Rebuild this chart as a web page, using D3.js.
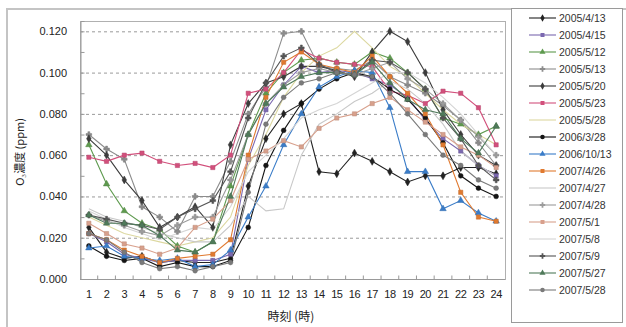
<!DOCTYPE html>
<html>
<head>
<meta charset="utf-8">
<script src="https://cdn.jsdelivr.net/npm/d3@7"></script>
<style>
  body { margin: 0; background: #fff; }
  svg { display: block; font-family: "Liberation Sans", Arial, sans-serif; }
</style>
</head>
<body>
<div id="chart"></div>
<script>
var hours = [1,2,3,4,5,6,7,8,9,10,11,12,13,14,15,16,17,18,19,20,21,22,23,24];
var yTicks = [0, 0.02, 0.04, 0.06, 0.08, 0.10, 0.12];
var dates = ["2005/4/13","2005/4/15","2005/5/12","2005/5/13","2005/5/20","2005/5/23","2005/5/28",
             "2006/3/28","2006/10/13","2007/4/26","2007/4/27","2007/4/28","2007/5/1","2007/5/8",
             "2007/5/9","2007/5/27","2007/5/28"];

// O3 concentration (ppm) by hour, one array per day
var d20050413 = [0.025,0.013,0.010,0.011,0.008,0.009,0.008,0.008,0.010,0.045,0.068,0.080,0.085,0.052,0.051,0.061,0.057,0.052,0.047,0.050,0.050,0.054,0.054,0.051];
var d20050415 = [0.022,0.018,0.012,0.010,0.008,0.009,0.009,0.009,0.012,0.058,0.082,0.094,0.103,0.100,0.101,0.100,0.097,0.094,0.088,0.077,0.068,0.062,0.055,0.050];
var d20050512 = [0.065,0.046,0.033,0.027,0.024,0.016,0.013,0.018,0.045,0.070,0.090,0.100,0.106,0.107,0.105,0.104,0.110,0.107,0.100,0.092,0.078,0.075,0.070,0.074];
var d20050513 = [0.070,0.063,0.058,0.035,0.030,0.023,0.040,0.040,0.057,0.080,0.093,0.119,0.120,0.103,0.102,0.101,0.106,0.098,0.094,0.090,0.084,0.077,0.066,0.055];
var d20050520 = [0.068,0.060,0.048,0.038,0.025,0.030,0.035,0.025,0.065,0.085,0.095,0.098,0.103,0.103,0.101,0.098,0.110,0.120,0.115,0.100,0.082,0.070,0.060,0.055];
var d20050523 = [0.059,0.057,0.060,0.061,0.057,0.055,0.056,0.054,0.060,0.090,0.092,0.100,0.111,0.107,0.105,0.104,0.103,0.091,0.089,0.085,0.091,0.090,0.083,0.065];
var d20050528 = [0.030,0.026,0.022,0.020,0.018,0.016,0.018,0.020,0.030,0.055,0.070,0.088,0.100,0.108,0.112,0.120,0.112,0.103,0.098,0.090,0.082,0.075,0.070,0.065];
var d20060328 = [0.016,0.011,0.009,0.010,0.006,0.008,0.006,0.006,0.009,0.025,0.055,0.072,0.085,0.092,0.097,0.100,0.098,0.092,0.087,0.078,0.066,0.050,0.044,0.040];
var d20061013 = [0.015,0.016,0.011,0.010,0.009,0.010,0.006,0.007,0.014,0.030,0.045,0.065,0.080,0.093,0.098,0.101,0.100,0.083,0.052,0.052,0.034,0.038,0.032,0.028];
var d20070426 = [0.022,0.019,0.014,0.011,0.008,0.010,0.011,0.012,0.019,0.060,0.088,0.105,0.110,0.104,0.102,0.100,0.108,0.098,0.090,0.080,0.065,0.042,0.030,0.028];
var d20070427 = [0.034,0.030,0.028,0.025,0.022,0.020,0.018,0.018,0.026,0.040,0.033,0.034,0.060,0.075,0.080,0.086,0.090,0.096,0.092,0.085,0.075,0.062,0.055,0.050];
var d20070428 = [0.031,0.028,0.026,0.023,0.021,0.026,0.030,0.030,0.048,0.070,0.085,0.094,0.100,0.102,0.100,0.099,0.102,0.105,0.097,0.092,0.085,0.077,0.069,0.060];
var d20070501 = [0.027,0.022,0.017,0.015,0.012,0.015,0.025,0.029,0.038,0.058,0.062,0.067,0.064,0.073,0.078,0.080,0.085,0.088,0.082,0.076,0.070,0.064,0.060,0.054];
var d20070508 = [0.033,0.029,0.025,0.022,0.019,0.022,0.025,0.024,0.035,0.052,0.060,0.068,0.078,0.082,0.085,0.090,0.095,0.100,0.100,0.095,0.088,0.080,0.070,0.060];
var d20070509 = [0.031,0.029,0.027,0.026,0.024,0.030,0.034,0.038,0.052,0.078,0.095,0.108,0.112,0.104,0.100,0.099,0.106,0.105,0.100,0.092,0.078,0.068,0.055,0.048];
var d20070527 = [0.031,0.027,0.027,0.026,0.021,0.014,0.013,0.018,0.040,0.070,0.085,0.093,0.098,0.100,0.100,0.099,0.105,0.095,0.087,0.082,0.080,0.068,0.061,0.074];
var d20070528 = [0.022,0.019,0.013,0.008,0.005,0.006,0.004,0.006,0.008,0.042,0.075,0.088,0.095,0.097,0.100,0.099,0.098,0.090,0.080,0.070,0.060,0.055,0.048,0.044];

var values = [d20050413,d20050415,d20050512,d20050513,d20050520,d20050523,d20050528,
              d20060328,d20061013,d20070426,d20070427,d20070428,d20070501,d20070508,
              d20070509,d20070527,d20070528];

var colors = ["#222222","#7b68b0","#5e9a4e","#8c8c8c","#3c3c3c","#d2507c","#dcd8a0",
              "#151515","#3a7cc8","#e07a30","#c8c8c8","#9c9c9c","#d8a08c","#d4d4d4",
              "#555555","#4f7a5a","#7a7a7a"];
var shapes = [d3.symbolDiamond, d3.symbolSquare, d3.symbolTriangle, d3.symbolCross, d3.symbolDiamond,
              d3.symbolSquare, null, d3.symbolCircle, d3.symbolTriangle, d3.symbolSquare,
              null, d3.symbolCross, d3.symbolSquare, null, d3.symbolCross, d3.symbolTriangle, d3.symbolCircle];

var series = dates.map(function(d, i) { return { key: d, values: values[i], color: colors[i], shape: shapes[i] }; });

var W = 626, H = 327;
var plot = { left: 80, top: 21, right: 505, bottom: 279 };

var svg = d3.select("#chart").append("svg").attr("width", W).attr("height", H);

// outer frame and legend frame
svg.append("rect").attr("x", 7).attr("y", 9).attr("width", 640).attr("height", 340)
  .attr("fill", "none").attr("stroke", "#c4c4c4").attr("stroke-width", 2);
svg.append("rect").attr("x", 511.5).attr("y", 8.5).attr("width", 111).attr("height", 314)
  .attr("fill", "#fff").attr("stroke", "#9a9a9a");

var x = d3.scaleBand().domain(hours).range([plot.left, plot.right]);
var y = d3.scaleLinear().domain([0, 0.125]).range([plot.bottom, plot.top]);

// dashed grid
svg.append("g").selectAll("line").data(yTicks.slice(1)).enter().append("line")
  .attr("x1", plot.left).attr("x2", plot.right)
  .attr("y1", function(d) { return y(d) + 0.5; }).attr("y2", function(d) { return y(d) + 0.5; })
  .attr("stroke", "#9a9a9a").attr("stroke-dasharray", "3,3");

// plot frame
svg.append("rect").attr("x", plot.left + 0.5).attr("y", plot.top + 0.5)
  .attr("width", plot.right - plot.left).attr("height", plot.bottom - plot.top)
  .attr("fill", "none").attr("stroke", "#b0b0b0");

// y axis with inside ticks
var yAxis = svg.append("g").attr("transform", "translate(" + (plot.left + 0.5) + ",0)")
  .call(d3.axisRight(y).tickValues(d3.range(0, 0.121, 0.01)).tickSize(4).tickFormat(""));
yAxis.select(".domain").attr("stroke", "#999");
yAxis.selectAll(".tick line").attr("stroke", "#999");

svg.append("g").selectAll("text").data(yTicks).enter().append("text")
  .attr("x", 67).attr("y", function(d) { return y(d) + 4; })
  .attr("text-anchor", "end").attr("font-size", 11).attr("fill", "#222")
  .text(function(d) { return d3.format(".3f")(d); });

// x axis, ticks between categories pointing up
var xb = svg.append("g").attr("transform", "translate(0," + (plot.bottom + 0.5) + ")");
xb.append("line").attr("x1", plot.left).attr("x2", plot.right).attr("stroke", "#999");
xb.selectAll(".tk").data(hours.slice(1)).enter().append("line")
  .attr("x1", function(d) { return x(d); }).attr("x2", function(d) { return x(d); })
  .attr("y1", 0).attr("y2", -4).attr("stroke", "#999");
xb.selectAll("text").data(hours).enter().append("text")
  .attr("x", function(d) { return x(d) + x.bandwidth() / 2; }).attr("y", 18)
  .attr("text-anchor", "middle").attr("font-size", 11).attr("fill", "#222")
  .attr("letter-spacing", "-0.5")
  .text(function(d) { return d; });

svg.append("text").attr("x", 291).attr("y", 321).attr("text-anchor", "middle")
  .attr("font-size", 12).attr("fill", "#222").attr("font-family", "Noto Sans CJK JP")
  .text("時刻 (時)");

svg.append("text").attr("transform", "translate(24,152) rotate(-90)").attr("text-anchor", "middle")
  .attr("font-size", 11).attr("fill", "#222").attr("font-family", "Noto Sans CJK JP")
  .text("O₃濃度 (ppm)");

// lines and markers
var line = d3.line()
  .x(function(d, i) { return x(hours[i]) + x.bandwidth() / 2; })
  .y(function(d) { return y(d); });

var g = svg.append("g");
series.forEach(function(s) {
  g.append("path").datum(s.values).attr("d", line)
    .attr("fill", "none").attr("stroke", s.color).attr("stroke-width", 1.1);
});
series.forEach(function(s) {
  if (!s.shape) return;
  g.selectAll(null).data(s.values).enter().append("path")
    .attr("transform", function(d, i) { return "translate(" + (x(hours[i]) + x.bandwidth() / 2) + "," + y(d) + ")"; })
    .attr("d", d3.symbol().type(s.shape).size(18))
    .attr("fill", s.color).attr("stroke", d3.color(s.color).darker(0.4)).attr("stroke-width", 0.5);
});

// legend
var lg = svg.append("g").selectAll("g").data(series).enter().append("g")
  .attr("transform", function(d, i) { return "translate(0," + (18 + i * 17) + ")"; });
lg.append("line").attr("x1", 529).attr("x2", 556).attr("stroke", function(d) { return d.color; }).attr("stroke-width", 1.1);
lg.filter(function(d) { return d.shape; }).append("path")
  .attr("transform", "translate(542.5,0)")
  .attr("d", function(d) { return d3.symbol().type(d.shape).size(16)(); })
  .attr("fill", function(d) { return d.color; });
lg.append("text").attr("x", 559).attr("y", 4).attr("font-size", 10.5).attr("fill", "#333")
  .text(function(d) { return d.key; });
</script>
</body>
</html>
